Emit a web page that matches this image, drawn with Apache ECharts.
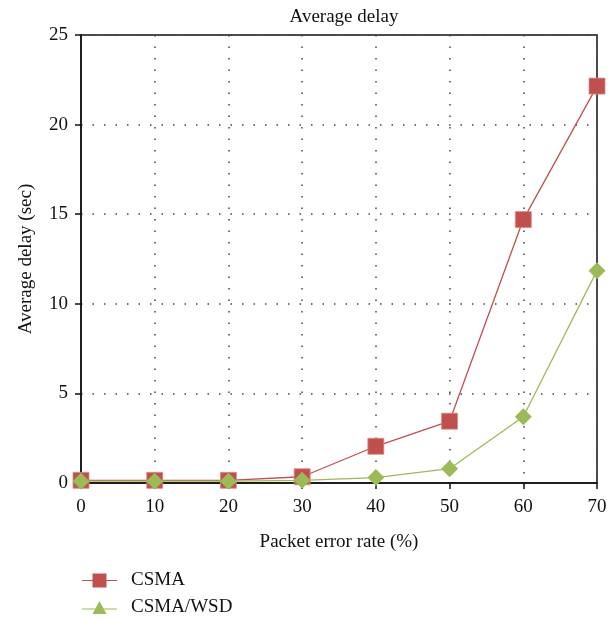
<!DOCTYPE html>
<html><head><meta charset="utf-8">
<script src="https://cdn.jsdelivr.net/npm/echarts@6/dist/echarts.min.js"></script>
<style>html,body{margin:0;padding:0;background:#fff}#c{width:613px;height:620px}</style>
</head><body><div id="c"></div>
<script>
const categories = [0, 10, 20, 30, 40, 50, 60, 70];
const csma = [0.15, 0.15, 0.15, 0.35, 2.05, 3.45, 14.7, 22.15];
const csmaWsd = [0.1, 0.1, 0.1, 0.15, 0.3, 0.8, 3.7, 11.85];
const yTicks = [0, 5, 10, 15, 20, 25];

const F = 'Liberation Serif';
const FS = 19;
const legText = { fontFamily: F, fontSize: FS, color: '#111', padding: [0, 0, 0, 9] };
const legItem = { borderWidth: 0 };
const chart = echarts.init(document.getElementById('c'));
chart.setOption({
  animation: false,
  title: { text: 'Average delay', left: 339, top: 3, textAlign: 'center',
    textStyle: { fontFamily: F, fontSize: FS, fontWeight: 'normal', color: '#111' } },
  grid: { left: 81, right: 16, top: 35, bottom: 137, show: true, borderColor: '#111', borderWidth: 1.5, backgroundColor: 'transparent' },
  legend: [
    { left: 77, top: 566, itemWidth: 35, itemHeight: 16, textStyle: legText, itemStyle: legItem,
      data: [{ name: 'CSMA', icon: 'path://M0,7.4 H35 V8.6 H0 Z M10.5,1 H24.5 V15 H10.5 Z' }] },
    { left: 77, top: 593, itemWidth: 35, itemHeight: 16, textStyle: legText, itemStyle: legItem,
      data: [{ name: 'CSMA/WSD', icon: 'path://M0,9.4 H35 V10.6 H0 Z M17.5,2 L24.5,15 L10.5,15 Z' }] }
  ],
  xAxis: { type: 'value', min: 0, max: 70, interval: 10,
    name: 'Packet error rate (%)', nameLocation: 'middle', nameGap: 50,
    nameTextStyle: { fontFamily: F, fontSize: FS, color: '#111' },
    axisLine: { lineStyle: { color: '#111', width: 1.5 } },
    axisTick: { inside: false, length: 6, lineStyle: { color: '#111', width: 1.5 } },
    axisLabel: { fontFamily: F, fontSize: FS, color: '#111', margin: 15 },
    splitLine: { show: true, lineStyle: { color: '#444', type: [1.5, 10], width: 1.5 } } },
  yAxis: { type: 'value', min: 0, max: 25, interval: 5,
    name: 'Average delay (sec)', nameLocation: 'middle', nameGap: 45,
    nameTextStyle: { fontFamily: F, fontSize: FS, color: '#111' },
    axisLine: { show: true, lineStyle: { color: '#111', width: 1.5 } },
    axisTick: { show: true, inside: false, length: 6, lineStyle: { color: '#111', width: 1.5 } },
    axisLabel: { fontFamily: F, fontSize: FS, color: '#111', margin: 13,
      formatter: v => yTicks.includes(v) ? String(v) : '' },
    splitLine: { show: true, lineStyle: { color: '#444', type: [1.5, 10], width: 1.5 } } },
  series: [
    { name: 'CSMA', type: 'line', data: categories.map((x, i) => [x, csma[i]]),
      symbol: 'rect', symbolSize: 16, color: '#C0504D',
      lineStyle: { width: 1.3, color: '#C0504D' },
      itemStyle: { color: '#C0504D', borderColor: '#D98B88', borderWidth: 0.8 } },
    { name: 'CSMA/WSD', type: 'line', data: categories.map((x, i) => [x, csmaWsd[i]]),
      symbol: 'diamond', symbolSize: 17, color: '#9BBB59',
      lineStyle: { width: 1.3, color: '#9BBB59' },
      itemStyle: { color: '#9BBB59' } }
  ]
});
</script></body></html>
